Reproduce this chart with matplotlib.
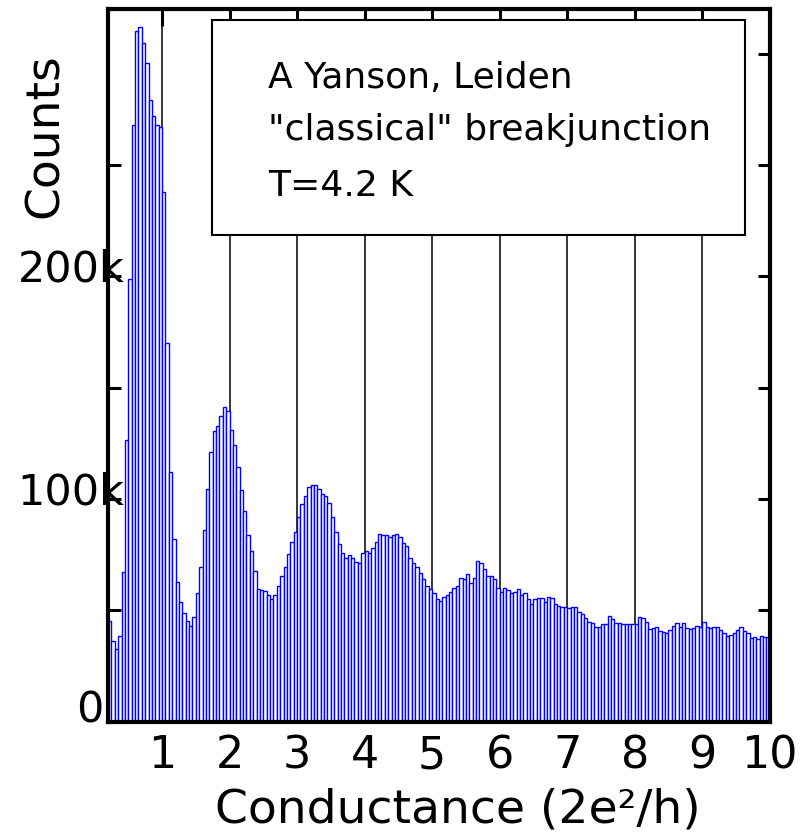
import numpy as np
import matplotlib
matplotlib.use('Agg')
import matplotlib.pyplot as plt
from matplotlib import font_manager
from matplotlib.patches import Rectangle
from matplotlib.transforms import ScaledTranslation

# Conductance histogram of a gold break junction, 0.05 (2e^2/h) wide bins from 0.2
g_start = 0.2
bin_width = 0.05
counts_k = [
    45.2, 36.3, 32.4, 38.5, 67.3, 126.5, 199, 268, 310, 312,
    305, 296, 279, 272, 268, 267, 238, 170, 112, 81.8,
    62.8, 53.8, 48.9, 45.3, 42.9, 46.8, 57.6, 69.5, 86, 104.3,
    121, 130.5, 132.7, 137.2, 141.4, 139.3, 131, 124.4, 114.5, 104,
    94.7, 83.9, 76.7, 67.5, 59.7, 59.1, 58.5, 57, 54.9, 57,
    60.9, 65.5, 69.5, 75.2, 80.5, 85, 91.9, 97.6, 101.2, 105.5,
    106.4, 106.1, 104.3, 102.1, 101.5, 98.0, 92.0, 85.3, 79.6, 75.8,
    73.3, 74.6, 73.3, 71.6, 71.4, 75.8, 76.4, 75.5, 78.1, 80.6,
    84.2, 83.9, 83.6, 83.0, 83.8, 84.1, 83.0, 80.3, 78.7, 73.3,
    71.1, 69.6, 66.6, 63.9, 60.9, 59.5, 57.9, 55.0, 54.3, 56.1,
    56.8, 58.0, 59.8, 60.7, 64.3, 63.9, 66.1, 62.4, 64.3, 72.1,
    71.1, 68.5, 65.5, 65.5, 63.9, 59.8, 58.0, 59.8, 59.1, 57.6,
    58.3, 59.4, 56.8, 57.6, 55.0, 52.6, 54.9, 55.6, 55.6, 53.5,
    56.1, 55.3, 52.8, 52.0, 51.6, 51.3, 50.8, 51.6, 51.3, 49.0,
    48.1, 46.3, 44.5, 44.1, 42.3, 42.3, 43.8, 43.8, 47.5, 45.9,
    44.1, 44.1, 43.8, 43.8, 43.8, 43.8, 43.8, 46.8, 46.3, 44.8,
    41.4, 41.9, 42.3, 40.7, 40.4, 39.6, 41.1, 43.1, 44.1, 42.6,
    44.4, 42.2, 41.6, 41.9, 42.9, 42.6, 44.5, 42.3, 41.9, 42.6,
    42.3, 41.1, 39.9, 38.4, 38.9, 39.9, 41.1, 42.6, 40.8, 39.6,
    37.4, 37.8, 36.9, 38.4, 37.8, 38.1,
]

x_ticks = [1, 2, 3, 4, 5, 6, 7, 8, 9, 10]
y_ticks = [0, 50e3, 100e3, 150e3, 200e3, 250e3, 300e3]
y_tick_labels = ['0', '', '100k', '', '200k', '', '']
note_lines = ['A Yanson, Leiden', '"classical" breakjunction', 'T=4.2 K']

# pick a narrow face if one is installed
available = {f.name for f in font_manager.fontManager.ttflist}
font = 'DejaVu Sans'
for fam in ['Liberation Sans Narrow', 'DejaVu Sans Condensed']:
    if fam in available:
        font = fam
        break
plt.rcParams['font.family'] = font

fig = plt.figure(figsize=(8.09, 8.39), dpi=100)
ax = fig.add_axes([0.1335, 0.140, 0.818, 0.849])

edges = g_start + bin_width * np.arange(len(counts_k))
ax.bar(edges, np.array(counts_k) * 1000, width=bin_width, align='edge',
       facecolor='white', edgecolor='#0000ff', linewidth=1.0, zorder=2)

ax.set_xlim(g_start, 10)
ax.set_ylim(0, 320e3)

# vertical guides at integer conductance, hidden behind the bars
ax.set_xticks(x_ticks)
ax.set_xticklabels([str(v) for v in x_ticks])
ax.grid(axis='x', color='black', linewidth=1.1, zorder=1)
ax.set_axisbelow(True)

ax.set_yticks(y_ticks)
ax.set_yticklabels(y_tick_labels)
ax.yaxis.get_major_ticks()[-1].tick1line.set_visible(False)

for side in ax.spines.values():
    side.set_linewidth(3)

ax.tick_params(axis='x', direction='in', length=12, width=2.2, top=True,
               labelsize=32, pad=9)
ax.tick_params(axis='y', direction='in', length=9, width=2.2, right=True,
               labelsize=31, pad=-12)

# nudge y labels upward, the zero a bit further left and higher
for lab, txt in zip(ax.get_yticklabels(), y_tick_labels):
    dx, dy = (-15 / 72, 11 / 72) if txt == '0' else (0, 8 / 72)
    lab.set_transform(lab.get_transform() + ScaledTranslation(dx, dy, fig.dpi_scale_trans))

ax.set_xlabel('Conductance (2e²/h)', fontsize=34)
ax.xaxis.set_label_coords(0.529, -0.093)
ax.set_ylabel('Counts', fontsize=34)
ax.yaxis.set_label_coords(-0.06, 0.822)

# annotation box
ax.add_patch(Rectangle((0.157, 0.683), 0.805, 0.302, transform=ax.transAxes,
                       facecolor='white', edgecolor='black', linewidth=1.5, zorder=3))
for line, yb in zip(note_lines, [0.889, 0.816, 0.7375]):
    ax.text(0.242, yb, line, transform=ax.transAxes, fontsize=26,
            va='baseline', ha='left', zorder=4)

fig.savefig('out.png', dpi=100)
